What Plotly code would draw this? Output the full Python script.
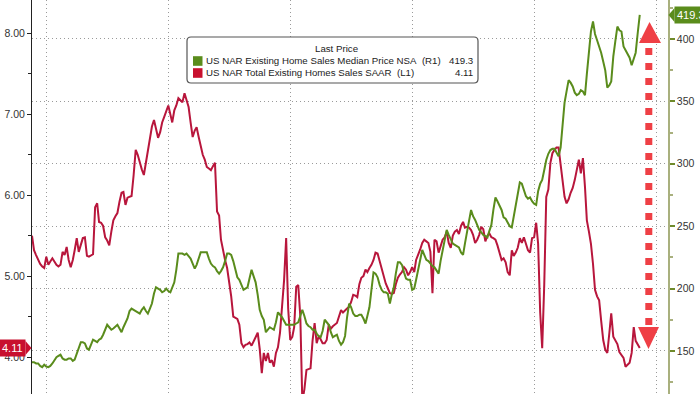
import pandas as pd
import plotly.graph_objects as go

# ---------------- data (monthly, Jun 1999 - May 2024) ----------------
start_month = "1999-06-01"

sales_by_year = {  # US NAR Total Existing Homes Sales SAAR, millions (left axis)
    1999: [5.50, 5.32, 5.26, 5.20, 5.15, 5.12, 5.10],
    2000: [5.24, 5.14, 5.18, 5.22, 5.18, 5.14, 5.12, 5.14, 5.30, 5.26, 5.36, 5.20],
    2001: [5.11, 5.20, 5.32, 5.47, 5.30, 5.40, 5.47, 5.48, 5.25, 5.24, 5.26, 5.27],
    2002: [5.85, 5.90, 5.67, 5.66, 5.62, 5.48, 5.44, 5.38, 5.55, 5.69, 5.74, 5.78],
    2003: [5.92, 6.03, 6.04, 5.88, 5.97, 5.98, 5.99, 6.25, 6.56, 6.50, 6.40, 6.32],
    2004: [6.25, 6.40, 6.56, 6.68, 6.85, 6.93, 6.80, 6.71, 6.78, 6.90, 6.97, 7.05],
    2005: [7.11, 7.00, 6.90, 7.05, 7.11, 7.20, 7.18, 7.15, 7.26, 7.18, 7.09, 6.90],
    2006: [6.72, 6.80, 6.84, 6.72, 6.62, 6.50, 6.44, 6.35, 6.33, 6.31, 6.36, 6.40],
    2007: [5.80, 5.75, 5.45, 5.30, 5.20, 5.10, 4.95, 4.75, 4.50, 4.48, 4.47, 4.40],
    2008: [4.17, 4.12, 4.15, 4.16, 4.18, 4.14, 4.20, 4.25, 4.30, 4.10, 3.80, 4.05],
    2009: [3.95, 4.05, 3.93, 3.96, 3.88, 4.05, 4.12, 4.30, 4.62, 4.95, 5.47, 4.60],
    2010: [4.21, 4.25, 4.37, 4.87, 4.89, 4.50, 3.45, 3.60, 3.84, 3.85, 3.86, 4.20],
    2011: [4.42, 4.17, 4.25, 4.22, 4.17, 4.17, 4.21, 4.40, 4.35, 4.38, 4.40, 4.42],
    2012: [4.50, 4.58, 4.55, 4.58, 4.60, 4.62, 4.68, 4.77, 4.76, 4.74, 4.90, 4.98],
    2013: [5.00, 5.08, 5.05, 5.10, 5.14, 5.20, 5.29, 5.28, 5.18, 5.11, 5.00, 4.91],
    2014: [4.85, 4.79, 4.78, 4.79, 4.90, 4.98, 5.02, 5.05, 5.11, 5.08, 5.01, 5.05],
    2015: [5.11, 5.05, 5.20, 5.26, 5.33, 5.41, 5.45, 5.43, 5.41, 5.30, 4.79, 5.45],
    2016: [5.43, 5.29, 5.38, 5.45, 5.48, 5.55, 5.41, 5.35, 5.50, 5.55, 5.57, 5.52],
    2017: [5.62, 5.67, 5.60, 5.61, 5.60, 5.57, 5.51, 5.41, 5.45, 5.51, 5.61, 5.58],
    2018: [5.43, 5.50, 5.53, 5.48, 5.47, 5.45, 5.38, 5.30, 5.20, 5.22, 5.17, 5.05],
    2019: [5.01, 5.32, 5.25, 5.29, 5.35, 5.47, 5.41, 5.48, 5.38, 5.32, 5.29, 5.47],
    2020: [5.48, 5.66, 5.40, 4.55, 4.11, 4.90, 5.98, 6.07, 6.40, 6.52, 6.56, 6.59],
    2021: [6.59, 6.35, 6.15, 5.98, 5.90, 5.95, 6.03, 6.09, 6.19, 6.30, 6.44, 6.27],
    2022: [6.46, 6.10, 5.69, 5.55, 5.40, 5.15, 4.83, 4.75, 4.70, 4.45, 4.21, 4.09],
    2023: [4.05, 4.30, 4.54, 4.25, 4.21, 4.16, 4.06, 4.03, 3.99, 3.88, 3.90, 3.93],
    2024: [4.05, 4.37, 4.20, 4.15, 4.11],
}

price_by_year = {  # US NAR Existing Home Sales Median Price NSA, $ thousands (right axis)
    1999: [141, 141, 140, 140, 138, 137, 139],
    2000: [137.5, 137, 138, 140, 142, 145, 146, 147, 144, 143, 143, 144],
    2001: [144, 142, 143, 148, 152, 157, 157, 156, 152, 151, 155, 159],
    2002: [158, 157, 159, 160, 163, 167, 171, 169, 167, 168, 170, 171],
    2003: [168, 165, 169, 172, 176, 182, 184, 183, 182, 181, 180, 183],
    2004: [185, 182, 180, 184, 188, 196, 201, 200, 199, 197, 198, 200],
    2005: [198, 197, 201, 205, 215, 228, 228, 228, 227, 228, 226, 224],
    2006: [220, 216, 219, 225, 229, 229, 229, 229, 224, 220, 218, 217],
    2007: [214, 212, 214, 217, 222, 228, 228, 227, 222, 215, 209, 207],
    2008: [203, 199, 200, 201, 208, 215, 210, 205, 195, 183, 178, 175],
    2009: [165, 167, 169, 168, 167, 173, 181, 179, 177, 174, 171, 171],
    2010: [171, 171, 171, 172, 173, 178, 183, 178, 172, 170, 169, 167],
    2011: [167, 164, 162, 161, 166, 175, 173, 171, 165, 161, 162, 163],
    2012: [158, 155, 157, 162, 177, 188, 185, 180, 178, 178, 179, 179],
    2013: [176, 172, 178, 185, 199, 213, 212, 209, 203, 199, 197, 197],
    2014: [196, 188, 195, 201, 212, 221, 221, 219, 213, 208, 207, 207],
    2015: [199, 200, 207, 215, 223, 231, 227, 223, 222, 220, 218, 217],
    2016: [214, 212, 222, 231, 239, 247, 243, 239, 236, 235, 234, 233],
    2017: [229, 227, 236, 244, 254, 263, 258, 255, 250, 247, 245, 243],
    2018: [242, 241, 246, 251, 263, 273, 270, 266, 263, 257, 256, 253],
    2019: [250, 249, 258, 268, 277, 285, 284, 279, 274, 272, 273, 270],
    2020: [268, 267, 278, 284, 287, 295, 303, 308, 311, 312, 312, 309],
    2021: [306, 313, 330, 349, 358, 367, 365, 362, 357, 355, 356, 359],
    2022: [358, 355, 372, 391, 406, 414, 404, 399, 394, 389, 382, 375],
    2023: [361, 363, 366, 386, 398, 410, 407, 406, 394, 391, 389, 385],
    2024: [379, 384, 389, 405, 419.3],
}

left_ticks = [4, 5, 6, 7, 8]
left_tick_labels = ["4.00", "5.00", "6.00", "7.00", "8.00"]
right_ticks = [150, 200, 250, 300, 350, 400]
right_tick_labels = ["150", "200", "250", "300", "350", "400"]

price_name = "US NAR Existing Home Sales Median Price NSA"
sales_name = "US NAR Total Existing Homes Sales SAAR"

sales = [v for y in sorted(sales_by_year) for v in sales_by_year[y]]
price = [v for y in sorted(price_by_year) for v in price_by_year[y]]
dates = pd.date_range(start_month, periods=len(sales), freq="MS")

# ---------------- styling ----------------
W, H = 700, 394
L, R = 32, 32
GREEN = "#5a8c1c"
RED = "#b8163c"
ARROW = "#ef3f45"
FONT = "Liberation Sans, Arial, sans-serif"
GRID = "#9a9a9a"

def px(xp):
    return (xp - L) / (W - L - R)

def py(yp):
    return 1 - yp / H

fig = go.Figure()
fig.add_trace(go.Scatter(x=dates, y=price, name=price_name, yaxis="y2",
                         mode="lines", line=dict(color=GREEN, width=2)))
fig.add_trace(go.Scatter(x=dates, y=sales, name=sales_name, yaxis="y",
                         mode="lines", line=dict(color=RED, width=2)))

fig.update_layout(
    width=W, height=H,
    margin=dict(l=L, r=R, t=0, b=0, autoexpand=False),
    paper_bgcolor="white", plot_bgcolor="white",
    showlegend=False,
    font=dict(family=FONT, size=11, color="#333333"),
    xaxis=dict(type="date", range=["1999-06-01", "2025-06-28"],
               showticklabels=False, ticks="", zeroline=False, showline=False,
               showgrid=True, gridcolor=GRID, griddash="1px,3px", gridwidth=1,
               tick0="2000-01-01", dtick="M60"),
    yaxis=dict(range=[3.5425, 8.414], tickvals=left_ticks, ticktext=left_tick_labels,
               ticks="outside", ticklen=4, tickcolor="#222222", tickwidth=1,
               showline=True, linecolor="#222222", linewidth=1,
               showgrid=False, zeroline=False,
               tickfont=dict(size=10.5, color="#333333"),
               minor=dict(dtick=0.5, tick0=0, ticks="outside", ticklen=3,
                          tickcolor="#222222", showgrid=False)),
    yaxis2=dict(range=[115.5, 431.25], overlaying="y", side="right",
                tickvals=right_ticks, ticktext=right_tick_labels,
                ticks="outside", ticklen=5, tickcolor="#6f8a2a", tickwidth=2,
                showline=True, linecolor="#a9b07e", linewidth=1.5,
                showgrid=True, gridcolor=GRID, griddash="1px,3px", gridwidth=1,
                zeroline=False,
                tickfont=dict(size=10.5, color="#333333"),
                minor=dict(dtick=25, tick0=0, ticks="outside", ticklen=3,
                           tickcolor="#a9b07e", showgrid=False)),
)

shapes = []
annotations = []

# ---- legend box ----
bx0, bx1, by0, by1, rr = 187, 478, 37, 83, 4
shapes.append(dict(
    type="path", xref="paper", yref="paper", layer="above",
    path=(f"M{px(bx0+rr)},{py(by0)} L{px(bx1-rr)},{py(by0)} "
          f"Q{px(bx1)},{py(by0)} {px(bx1)},{py(by0+rr)} "
          f"L{px(bx1)},{py(by1-rr)} Q{px(bx1)},{py(by1)} {px(bx1-rr)},{py(by1)} "
          f"L{px(bx0+rr)},{py(by1)} Q{px(bx0)},{py(by1)} {px(bx0)},{py(by1-rr)} "
          f"L{px(bx0)},{py(by0+rr)} Q{px(bx0)},{py(by0)} {px(bx0+rr)},{py(by0)} Z"),
    line=dict(color="#555555", width=1.2), fillcolor="white"))
LEG_FS = 9.7
annotations.append(dict(xref="paper", yref="paper", x=px(336), y=py(49),
                        text="Last Price", showarrow=False, xanchor="center",
                        yanchor="middle", font=dict(size=LEG_FS, color="#222222")))
rows = [(price_name + "\u00a0\u00a0(R1)", f"{price[-1]:.1f}", GREEN, 61),
        (sales_name + "\u00a0\u00a0(L1)", f"{sales[-1]:.2f}", "#c8102e", 73)]
for label, val, col, yy in rows:
    shapes.append(dict(type="rect", xref="paper", yref="paper", layer="above",
                       x0=px(193), x1=px(202.5), y0=py(yy - 4.8), y1=py(yy + 4.8),
                       fillcolor=col, line=dict(width=0)))
    annotations.append(dict(xref="paper", yref="paper", x=px(204), y=py(yy),
                            text=label, showarrow=False, xanchor="left",
                            yanchor="middle", font=dict(size=LEG_FS, color="#222222")))
    annotations.append(dict(xref="paper", yref="paper", x=px(475), y=py(yy),
                            text=val, showarrow=False, xanchor="right",
                            yanchor="middle", font=dict(size=LEG_FS, color="#222222")))

# ---- last value tags ----
annotations.append(dict(xref="paper", yref="y", x=0, y=sales[-1], xshift=-6,
                        text=f"{sales[-1]:.2f}", showarrow=False, xanchor="right",
                        yanchor="middle", bgcolor="#c8102e", borderpad=2,
                        font=dict(size=11, color="white")))
d_left = 7 / 80.875
shapes.append(dict(type="path", xref="paper", yref="y", layer="above",
                   path=(f"M{px(25.5)},{sales[-1]+d_left} L{px(31.5)},{sales[-1]} "
                         f"L{px(25.5)},{sales[-1]-d_left} Z"),
                   fillcolor="#c8102e", line=dict(width=0)))
annotations.append(dict(xref="paper", yref="y2", x=1, y=price[-1], xshift=6,
                        text=f"{price[-1]:.1f}", showarrow=False, xanchor="left",
                        yanchor="middle", bgcolor=GREEN, borderpad=2,
                        font=dict(size=11, color="white")))
d_right = 7 / 1.248
shapes.append(dict(type="path", xref="paper", yref="y2", layer="above",
                   path=(f"M{px(674.5)},{price[-1]+d_right} L{px(668.5)},{price[-1]} "
                         f"L{px(674.5)},{price[-1]-d_right} Z"),
                   fillcolor=GREEN, line=dict(width=0)))

# ---- red dashed double arrow ----
shapes.append(dict(type="line", xref="paper", yref="paper", layer="above",
                   x0=px(648.8), x1=px(648.8), y0=py(48), y1=py(326),
                   line=dict(color=ARROW, width=7, dash="7px,8px")))
shapes.append(dict(type="path", xref="paper", yref="paper", layer="above",
                   path=f"M{px(639)},{py(43)} L{px(649.5)},{py(22)} L{px(661)},{py(43)} Z",
                   fillcolor=ARROW, line=dict(width=0)))
shapes.append(dict(type="path", xref="paper", yref="paper", layer="above",
                   path=f"M{px(638)},{py(327)} L{px(648.5)},{py(349)} L{px(659)},{py(327)} Z",
                   fillcolor=ARROW, line=dict(width=0)))

fig.update_layout(shapes=shapes, annotations=annotations)
fig.write_html("out.html", config={"displayModeBar": False},
               post_script="document.body.style.margin='0';document.body.style.overflow='hidden';")
